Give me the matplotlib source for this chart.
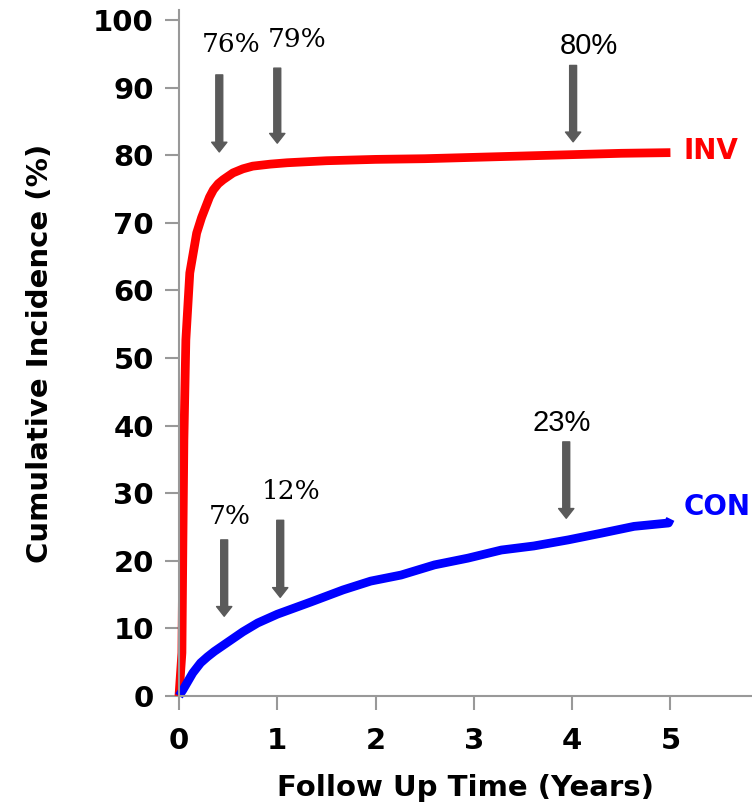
import matplotlib
matplotlib.use('Agg')
import matplotlib.pyplot as plt

# cumulative incidence curves (years, %)
inv_t = [0, 0.03, 0.04, 0.05, 0.07, 0.11, 0.18, 0.23, 0.27, 0.31, 0.35, 0.40, 0.45,
         0.49, 0.55, 0.65, 0.75, 0.93, 1.1, 1.5, 2.0, 2.5, 3.0, 3.5, 4.0, 4.5, 5.0]
inv_y = [0, 6.4, 23, 37.9, 52.7, 62.6, 68.5, 70.8, 72.3, 73.8, 74.9, 75.8, 76.4,
         76.8, 77.4, 78.0, 78.4, 78.7, 78.9, 79.2, 79.4, 79.5, 79.7, 79.9, 80.1, 80.3, 80.4]

con_t = [0, 0.04, 0.14, 0.22, 0.29, 0.36, 0.45, 0.55, 0.65, 0.8, 1.0, 1.34, 1.67,
         1.95, 2.26, 2.6, 2.94, 3.28, 3.61, 3.96, 4.3, 4.63, 4.98, 5.0]
con_y = [0, 0.9, 3.4, 4.9, 5.8, 6.6, 7.5, 8.5, 9.5, 10.8, 12.1, 13.9, 15.7,
         17.0, 17.9, 19.4, 20.4, 21.6, 22.2, 23.1, 24.1, 25.1, 25.6, 26.2]

# arrow annotations: label, x, arrow top, arrow tip, text x, text y, serif?
ann_labels = ['76%', '79%', '80%', '7%', '12%', '23%']
ann_x = [0.41, 1.0, 4.01, 0.46, 1.03, 3.94]
ann_top = [91.9, 92.9, 93.3, 23.1, 26.0, 37.6]
ann_tip = [80.5, 81.8, 82.0, 11.8, 14.6, 26.3]
ann_tx = [0.53, 1.2, 4.17, 0.52, 1.14, 3.89]
ann_ty = [96.4, 97.2, 96.2, 26.5, 30.3, 40.4]
ann_serif = [True, True, False, True, True, False]

fig = plt.figure(figsize=(7.52, 8.08), dpi=100)
ax = fig.add_axes([0.238, 0.1386, 0.762, 0.849])

ax.plot(inv_t, inv_y, color='#ff0000', lw=6.3, clip_on=False, solid_capstyle='butt')
ax.plot(con_t, con_y, color='#0000ff', lw=6.3, clip_on=False, solid_capstyle='butt')

ax.text(5.13, 80.6, 'INV', color='#ff0000', fontsize=20, fontweight='bold',
        va='center', ha='left')
ax.text(5.13, 28.0, 'CON', color='#0000ff', fontsize=20, fontweight='bold',
        va='center', ha='left')

for lab, x, top, tip, tx, ty, serif in zip(ann_labels, ann_x, ann_top, ann_tip,
                                           ann_tx, ann_ty, ann_serif):
    ax.annotate('', xy=(x, tip), xytext=(x, top),
                arrowprops=dict(width=5, headwidth=11, headlength=7,
                                color='#5a5a5a', shrink=0))
    if serif:
        ax.text(tx, ty, lab, fontsize=19, family='DejaVu Serif',
                ha='center', va='center')
    else:
        ax.text(tx, ty, lab, fontsize=21, family='Liberation Sans',
                ha='center', va='center')

ax.set_xlim(0, 5.83)
ax.set_ylim(0, 101.5)
ax.set_xticks([0, 1, 2, 3, 4, 5])
ax.set_yticks(range(0, 101, 10))
for s in ['top', 'right']:
    ax.spines[s].set_visible(False)
for s in ['left', 'bottom']:
    ax.spines[s].set_color('#999999')
    ax.spines[s].set_linewidth(1.5)
ax.tick_params(colors='#999999', length=10, width=1.5, labelcolor='black',
               labelsize=21, pad=8)
ax.tick_params(axis='x', pad=12)
for lbl in ax.get_xticklabels() + ax.get_yticklabels():
    lbl.set_fontweight('bold')

ax.set_xlabel('Follow Up Time (Years)', fontsize=21, fontweight='bold', labelpad=14)
ax.set_ylabel('Cumulative Incidence (%)', fontsize=21, fontweight='bold', labelpad=28)

plt.savefig('out.png', dpi=100)
plt.close()
